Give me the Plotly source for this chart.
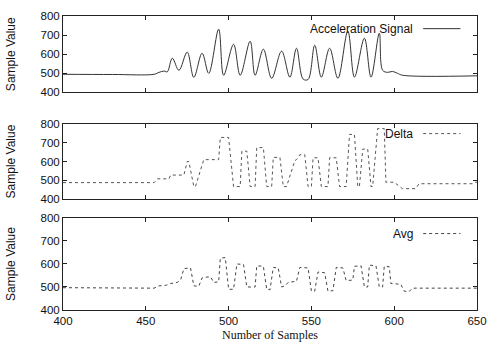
import plotly.graph_objects as go
from plotly.subplots import make_subplots

# ---- data ----
accel_x = [400, 430, 455, 458, 461, 463, 466, 470, 475, 479, 484, 488, 494, 497, 503, 507,
           513, 516, 521, 526, 532, 537, 541, 545, 548, 552, 556, 561, 566, 572, 576, 582,
           586, 591, 593, 596, 599, 602, 605, 650]
accel_y = [495, 494, 495, 505, 512, 508, 579, 516, 611, 479, 605, 500, 731, 490, 652, 490,
           668, 490, 626, 474, 616, 480, 631, 470, 468, 647, 480, 631, 474, 721, 480, 684,
           480, 710, 516, 505, 510, 500, 490, 487]

delta_x = [400, 455, 457, 464, 465, 473, 475, 476, 479, 480, 485, 494, 495, 500, 503, 507,
           508, 511, 513, 516, 517, 521, 523, 526, 527, 531, 533, 535, 540, 541, 543, 546,
           548, 550, 551, 554, 556, 560, 561, 565, 567, 571, 573, 576, 578, 579, 581, 584,
           586, 587, 590, 594, 595, 600, 605, 613, 615, 648, 649, 650]
delta_y = [488, 488, 508, 508, 528, 528, 600, 600, 467, 467, 610, 610, 728, 728, 467, 467,
           655, 655, 467, 467, 674, 674, 467, 467, 622, 622, 467, 467, 605, 610, 636, 636,
           467, 467, 620, 620, 467, 467, 620, 620, 467, 467, 744, 744, 467, 467, 666, 666,
           467, 467, 775, 775, 490, 490, 456, 456, 482, 482, 490, 490]

avg_x = [400, 455, 458, 462, 465, 469, 471, 473, 477, 479, 482, 484, 489, 491, 494, 495,
         498, 500, 503, 505, 509, 511, 516, 517, 521, 523, 525, 527, 530, 532, 534, 536,
         541, 543, 548, 550, 552, 554, 558, 560, 563, 565, 569, 571, 575, 576, 580, 582,
         584, 585, 589, 591, 593, 594, 597, 598, 604, 606, 609, 611, 650]
avg_y = [497, 495, 505, 507, 515, 520, 530, 580, 583, 505, 503, 540, 545, 520, 522, 625,
         628, 490, 490, 600, 598, 500, 500, 592, 590, 490, 488, 585, 583, 500, 505, 520,
         525, 585, 583, 482, 482, 565, 562, 482, 484, 585, 583, 528, 530, 590, 592, 500,
         500, 595, 592, 500, 500, 590, 588, 515, 512, 482, 480, 495, 495]

y_ticks = [400, 500, 600, 700, 800]
x_ticks = [400, 450, 500, 550, 600, 650]
series_names = ["Acceleration Signal", "Delta", "Avg"]

# ---- figure ----
fig = make_subplots(rows=3, cols=1, shared_xaxes=False)

line_styles = [dict(color="#333333", width=1),
               dict(color="#555555", width=1, dash="dot"),
               dict(color="#444444", width=1, dash="dot")]

fig.add_trace(go.Scatter(x=accel_x, y=accel_y, mode="lines", line=line_styles[0],
                         line_shape="spline", showlegend=False), row=1, col=1)
fig.add_trace(go.Scatter(x=delta_x, y=delta_y, mode="lines", line=line_styles[1],
                         showlegend=False), row=2, col=1)
fig.add_trace(go.Scatter(x=avg_x, y=avg_y, mode="lines", line=line_styles[2],
                         showlegend=False), row=3, col=1)

domains = [[0.74, 1.0], [0.377, 0.633], [0.0, 0.313]]
tickfont = dict(family="Liberation Sans, Arial, sans-serif", size=11.5, color="#111")

for i in range(3):
    r = i + 1
    fig.update_yaxes(row=r, col=1, domain=domains[i], range=[400, 800],
                     tickvals=y_ticks, ticks="inside", ticklen=4, tickcolor="#222",
                     showline=True, linecolor="#222", linewidth=1, mirror="ticks",
                     showgrid=False, zeroline=False, tickfont=tickfont,
                     title=dict(text="Sample Value", standoff=22,
                                font=dict(family="Liberation Sans, Arial, sans-serif",
                                          size=12, color="#111")))
    fig.update_xaxes(row=r, col=1, range=[400, 650], tickvals=x_ticks,
                     ticks="inside", ticklen=4, tickcolor="#222",
                     showline=True, linecolor="#222", linewidth=1, mirror="ticks",
                     showgrid=False, zeroline=False, tickfont=tickfont,
                     showticklabels=(r == 3))

fig.update_xaxes(row=3, col=1,
                 title=dict(text="Number of Samples", standoff=4,
                            font=dict(family="Liberation Serif, Times New Roman, serif",
                                      size=12, color="#111")))

# legends in gnuplot style (text then line sample)
leg_y = [0.957, 0.60, 0.26]
for i in range(3):
    fig.add_annotation(x=0.851, y=leg_y[i], xref="paper", yref="paper",
                       text=series_names[i], showarrow=False, xanchor="right",
                       yanchor="middle",
                       font=dict(family="Liberation Sans, Arial, sans-serif", size=12,
                                 color="#111"),
                       bgcolor="rgba(255,255,255,0)")
    ls = dict(line_styles[i])
    fig.add_shape(type="line", xref="paper", yref="paper", x0=0.870, x1=0.960,
                  y0=leg_y[i], y1=leg_y[i], line=ls)

fig.update_layout(width=497, height=349, plot_bgcolor="white", paper_bgcolor="white",
                  margin=dict(l=63, r=10, t=10, b=39), showlegend=False)

fig.write_html("out.html", config={"displayModeBar": False},
               post_script="document.body.style.margin='0';document.body.style.overflow='hidden';")
